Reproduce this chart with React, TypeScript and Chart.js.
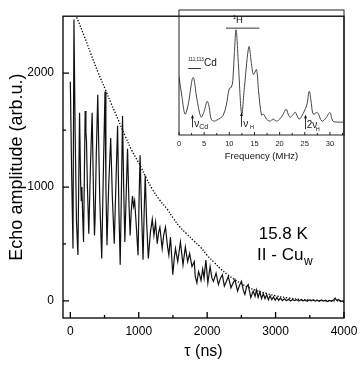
import { useEffect, useRef } from "react";
import { Chart, registerables } from "chart.js";
Chart.register(...registerables);

const FONT = "'Liberation Sans', Arial, sans-serif";

// Echo amplitude vs tau (ns)
const echoSignal: [number, number][] = [
  [0, 1925], [20, 1100], [39, 460], [53, 2470], [70, 1500], [90, 700], [111, 403], [135, 1653],
  [150, 1050], [160, 880], [169, 1000], [180, 760], [193, 517], [217, 1667], [228, 1480], [236, 1408],
  [250, 1000], [270, 589], [295, 1200], [319, 1653], [340, 900], [353, 575], [362, 720], [380, 1300],
  [401, 1810], [430, 900], [459, 373], [485, 1200], [507, 1839], [520, 1000], [536, 489], [560, 1000],
  [590, 1430], [615, 900], [642, 503], [665, 1000], [691, 1537], [710, 800], [729, 318], [745, 900],
  [763, 1623], [780, 1000], [797, 517], [815, 900], [836, 1336], [855, 900], [874, 575], [890, 780],
  [908, 920], [925, 830], [940, 880], [960, 700], [990, 402], [1005, 900], [1020, 1280], [1040, 800],
  [1063, 362], [1080, 800], [1095, 1100], [1115, 700], [1140, 373], [1170, 600], [1198, 718], [1222, 575],
  [1246, 690], [1270, 503], [1290, 600], [1309, 647], [1343, 460], [1365, 580], [1391, 647], [1420, 480],
  [1440, 402], [1464, 560], [1498, 230], [1520, 380], [1537, 460], [1570, 345], [1609, 517], [1647, 316],
  [1681, 474], [1715, 345], [1744, 417], [1778, 302], [1812, 345], [1826, 215], [1850, 158], [1874, 258],
  [1889, 230], [1910, 180], [1935, 280], [1955, 200], [1981, 359], [2010, 158], [2043, 302], [2070, 200],
  [2092, 172], [2130, 244], [2164, 144], [2195, 200], [2222, 230], [2251, 129], [2280, 170], [2309, 215],
  [2348, 115], [2380, 160], [2406, 187], [2444, 86], [2475, 140], [2502, 172], [2530, 90], [2551, 57],
  [2575, 120], [2599, 144], [2638, 29], [2672, 86], [2700, 40], [2720, 95], [2745, 30], [2770, 80],
  [2795, 20], [2820, 65], [2845, 20], [2870, 55], [2895, 10], [2920, 45], [2945, 10], [2970, 35],
  [2995, 5], [3020, 30], [3045, 5], [3070, 25], [3100, 3], [3130, 18], [3160, 2], [3190, 15],
  [3220, 0], [3250, 12], [3280, 2], [3310, 10], [3340, -2], [3370, 10], [3400, 0], [3430, 8],
  [3460, -3], [3490, 8], [3520, 0], [3550, 10], [3580, -2], [3610, 6], [3640, -4], [3670, 8],
  [3700, -2], [3730, 6], [3760, -5], [3790, 5], [3820, -3], [3850, 10], [3870, 25], [3890, 5],
  [3920, 12], [3950, -5], [3975, 0], [4000, -15],
];

// Dotted decay envelope
const envelope: [number, number][] = [
  [60, 2540], [200, 2330], [300, 2170], [400, 2015], [512, 1856], [600, 1730], [700, 1590], [800, 1450],
  [900, 1320], [1029, 1180], [1100, 1090], [1200, 980], [1300, 890], [1415, 806], [1500, 730], [1600, 650],
  [1700, 590], [1800, 530], [1898, 475], [2000, 400], [2100, 340], [2200, 280], [2300, 230], [2382, 196],
  [2500, 150], [2600, 120], [2700, 95], [2865, 66], [3000, 45], [3200, 25], [3348, 14], [3500, 7],
  [3700, 2], [3900, 0], [4000, 0],
];

// Inset: spectrum (frequency MHz, arbitrary amplitude)
const spectrum: [number, number][] = [
  [0, 59], [0.6, 38], [1.2, 21], [1.8, 30], [2.8, 58], [3.6, 35], [4.4, 18], [5.0, 24], [5.6, 34],
  [6.0, 28], [6.4, 16], [7.0, 14], [7.5, 15], [8.2, 17], [8.8, 20], [9.4, 30], [10.0, 47], [10.4, 48],
  [10.7, 55], [11.0, 82], [11.35, 106], [11.8, 72], [12.46, 21], [13.0, 48], [13.9, 89], [14.4, 72],
  [14.8, 61], [15.4, 66], [15.8, 45], [16.4, 20], [16.8, 21], [17.4, 16], [18.1, 14], [18.7, 16],
  [19.4, 14], [20.0, 16], [20.6, 20], [21.3, 26], [21.7, 21], [22.1, 18], [22.6, 20], [23.1, 23],
  [23.5, 19], [23.9, 16], [24.4, 19], [24.9, 24], [25.4, 30], [25.9, 44], [26.3, 32], [26.7, 21],
  [27.5, 22.7], [28.4, 14], [29.2, 17], [30.0, 22.7], [30.6, 14], [31.5, 13], [32.8, 13],
];

const tauTicks = [0, 1000, 2000, 3000, 4000];
const tauMinorTicks = [500, 1500, 2500, 3500];
const echoTicks = [0, 1000, 2000];
const echoMinorTicks = [500, 1500];
const freqTicks = [0, 5, 10, 15, 20, 25, 30];
const freqMinorTicks = [2.5, 7.5, 12.5, 17.5, 22.5, 27.5, 32.5];

type FrameCfg = {
  xMaj: number[]; xMin: number[]; yMaj: number[]; yMin: number[];
  maj: number; min: number; lw: number; color: string;
};

function framePlugin(cfg: FrameCfg) {
  return {
    id: "frameTicks",
    afterDraw(chart: any) {
      const { ctx, chartArea: a, scales } = chart;
      ctx.save();
      ctx.strokeStyle = cfg.color;
      ctx.lineWidth = cfg.lw;
      ctx.strokeRect(a.left, a.top, a.right - a.left, a.bottom - a.top);
      ctx.beginPath();
      const xs = scales.x;
      for (const v of cfg.xMaj) {
        const p = xs.getPixelForValue(v);
        ctx.moveTo(p, a.bottom); ctx.lineTo(p, a.bottom - cfg.maj);
      }
      for (const v of cfg.xMin) {
        const p = xs.getPixelForValue(v);
        if (p > a.right) continue;
        ctx.moveTo(p, a.bottom); ctx.lineTo(p, a.bottom - cfg.min);
      }
      const ys = scales.y;
      for (const v of cfg.yMaj) {
        const p = ys.getPixelForValue(v);
        ctx.moveTo(a.left, p); ctx.lineTo(a.left + cfg.maj, p);
      }
      for (const v of cfg.yMin) {
        const p = ys.getPixelForValue(v);
        ctx.moveTo(a.left, p); ctx.lineTo(a.left + cfg.min, p);
      }
      ctx.stroke();
      ctx.restore();
    },
  };
}

const mainTextPlugin = {
  id: "mainText",
  afterDraw(chart: any) {
    const { ctx, scales } = chart;
    const x = scales.x, y = scales.y;
    ctx.save();
    ctx.fillStyle = "#000";
    ctx.textBaseline = "alphabetic";
    ctx.textAlign = "left";
    ctx.font = `17px ${FONT}`;
    ctx.fillText("15.8 K", x.getPixelForValue(2753), y.getPixelForValue(542));
    const lx = x.getPixelForValue(2730);
    const ly = y.getPixelForValue(356);
    ctx.fillText("II - Cu", lx, ly);
    const w = ctx.measureText("II - Cu").width;
    ctx.font = `12px ${FONT}`;
    ctx.fillText("w", lx + w + 0.5, ly + 5);
    ctx.restore();
  },
};

const insetTextPlugin = {
  id: "insetText",
  afterDraw(chart: any) {
    const { ctx, scales } = chart;
    const X = (v: number) => scales.x.getPixelForValue(v);
    const Y = (v: number) => scales.y.getPixelForValue(v);
    ctx.save();
    ctx.fillStyle = "#111";
    ctx.strokeStyle = "#333";
    ctx.lineWidth = 1;
    ctx.textAlign = "left";
    ctx.textBaseline = "alphabetic";
    // 1H label and bar
    ctx.font = `6px ${FONT}`;
    ctx.fillText("1", X(10.74), Y(116.5));
    ctx.font = `9.5px ${FONT}`;
    ctx.fillText("H", X(11.33), Y(112.7));
    ctx.beginPath();
    ctx.moveTo(X(9.34), Y(107.7)); ctx.lineTo(X(15.97), Y(107.7));
    // 111,113Cd label and bar
    ctx.moveTo(X(1.85), Y(67)); ctx.lineTo(X(4.37), Y(67));
    ctx.stroke();
    ctx.font = `4.6px ${FONT}`;
    ctx.fillText("111,113", X(1.85), Y(74.3));
    ctx.font = `10px ${FONT}`;
    ctx.fillText("Cd", X(4.97), Y(69.3));
    // markers
    const marker = (f: number, a0: number, a1: number) => {
      const px = Math.round(X(f)) + 0.5;
      ctx.beginPath();
      ctx.moveTo(px, Y(a0)); ctx.lineTo(px, Y(a1));
      ctx.stroke();
      ctx.beginPath();
      ctx.moveTo(px, Y(a1) - 1);
      ctx.lineTo(px - 1.5, Y(a1) + 2.5);
      ctx.lineTo(px + 1.5, Y(a1) + 2.5);
      ctx.closePath();
      ctx.fill();
    };
    marker(2.52, 7.7, 19.3);
    marker(12.33, 8.3, 21.7);
    marker(25.05, 6, 19.3);
    ctx.font = `10px ${FONT}`;
    ctx.fillText("ν", X(3.04), Y(8.3));
    ctx.fillText("ν", X(12.78), Y(8.3));
    ctx.fillText("2ν", X(25.4), Y(6.7));
    ctx.font = `7px ${FONT}`;
    ctx.fillText("Cd", X(4.03), Y(6));
    ctx.font = `5.5px ${FONT}`;
    ctx.fillText("H", X(14.1), Y(6));
    ctx.fillText("H", X(27.2), Y(4.3));
    ctx.restore();
  },
};

const plain = (v: any) => String(v);

export default function App() {
  const mainRef = useRef<HTMLCanvasElement>(null);
  const insetRef = useRef<HTMLCanvasElement>(null);

  useEffect(() => {
    const main = new Chart(mainRef.current!, {
      type: "line",
      data: {
        datasets: [
          {
            data: echoSignal.map(([x, y]) => ({ x, y })),
            borderColor: "#111",
            borderWidth: 1.2,
            pointRadius: 0,
            tension: 0,
          },
          {
            data: envelope.map(([x, y]) => ({ x, y })),
            borderColor: "#000",
            borderWidth: 1.3,
            borderDash: [1.3, 1.7],
            pointRadius: 0,
            tension: 0.4,
          },
        ],
      },
      options: {
        animation: false,
        responsive: false,
        devicePixelRatio: 1,
        layout: { padding: { top: 9, right: 20, left: 0, bottom: 0 } },
        plugins: { legend: { display: false }, tooltip: { enabled: false } },
        scales: {
          x: {
            type: "linear",
            min: -107,
            max: 4000,
            afterFit: (s: any) => { s.height = 51; },
            afterBuildTicks: (s: any) => { s.ticks = tauTicks.map((v) => ({ value: v })); },
            grid: { display: false, drawTicks: false },
            border: { display: false },
            ticks: { color: "#000", font: { family: FONT, size: 12 }, padding: 6, maxRotation: 0, autoSkip: false, callback: plain },
            title: { display: true, text: "τ (ns)", color: "#000", font: { family: FONT, size: 16 }, padding: 8 },
          },
          y: {
            type: "linear",
            min: -150,
            max: 2500,
            afterFit: (s: any) => { s.width = 63; },
            afterBuildTicks: (s: any) => { s.ticks = echoTicks.map((v) => ({ value: v })); },
            grid: { display: false, drawTicks: false },
            border: { display: false },
            ticks: { color: "#000", font: { family: FONT, size: 12 }, padding: 9, autoSkip: false, callback: plain },
            title: { display: true, text: "Echo amplitude (arb.u.)", color: "#000", font: { family: FONT, size: 18 }, padding: 6 },
          },
        },
      },
      plugins: [
        framePlugin({ xMaj: tauTicks, xMin: tauMinorTicks, yMaj: echoTicks, yMin: echoMinorTicks, maj: 6, min: 3, lw: 1.3, color: "#000" }),
        mainTextPlugin,
      ],
    } as any);

    const inset = new Chart(insetRef.current!, {
      type: "line",
      data: {
        datasets: [
          {
            data: spectrum.map(([x, y]) => ({ x, y })),
            borderColor: "#444",
            borderWidth: 1,
            pointRadius: 0,
            tension: 0.35,
          },
        ],
      },
      options: {
        animation: false,
        responsive: false,
        devicePixelRatio: 1,
        layout: { padding: { top: 10, right: 16, left: 9, bottom: 0 } },
        plugins: { legend: { display: false }, tooltip: { enabled: false } },
        scales: {
          x: {
            type: "linear",
            min: 0,
            max: 32.8,
            afterFit: (s: any) => { s.height = 35; },
            afterBuildTicks: (s: any) => { s.ticks = freqTicks.map((v) => ({ value: v })); },
            grid: { display: false, drawTicks: false },
            border: { display: false },
            ticks: { color: "#222", font: { family: FONT, size: 7.5 }, padding: 4, maxRotation: 0, autoSkip: false, callback: plain },
            title: { display: true, text: "Frequency (MHz)", color: "#111", font: { family: FONT, size: 9.5 }, padding: 8 },
          },
          y: {
            type: "linear",
            min: 0,
            max: 126,
            display: false,
          },
        },
      },
      plugins: [
        framePlugin({ xMaj: freqTicks, xMin: freqMinorTicks, yMaj: [], yMin: [], maj: 3, min: 2, lw: 1, color: "#222" }),
        insetTextPlugin,
      ],
    } as any);

    return () => {
      main.destroy();
      inset.destroy();
    };
  }, []);

  return (
    <div style={{ position: "fixed", left: 0, top: 0, width: 364, height: 369, background: "#fff" }}>
      <canvas ref={mainRef} width={364} height={369} style={{ position: "absolute", left: 0, top: 0, width: 364, height: 369 }} />
      <canvas ref={insetRef} width={190} height={170} style={{ position: "absolute", left: 170, top: 0, width: 190, height: 170 }} />
    </div>
  );
}
